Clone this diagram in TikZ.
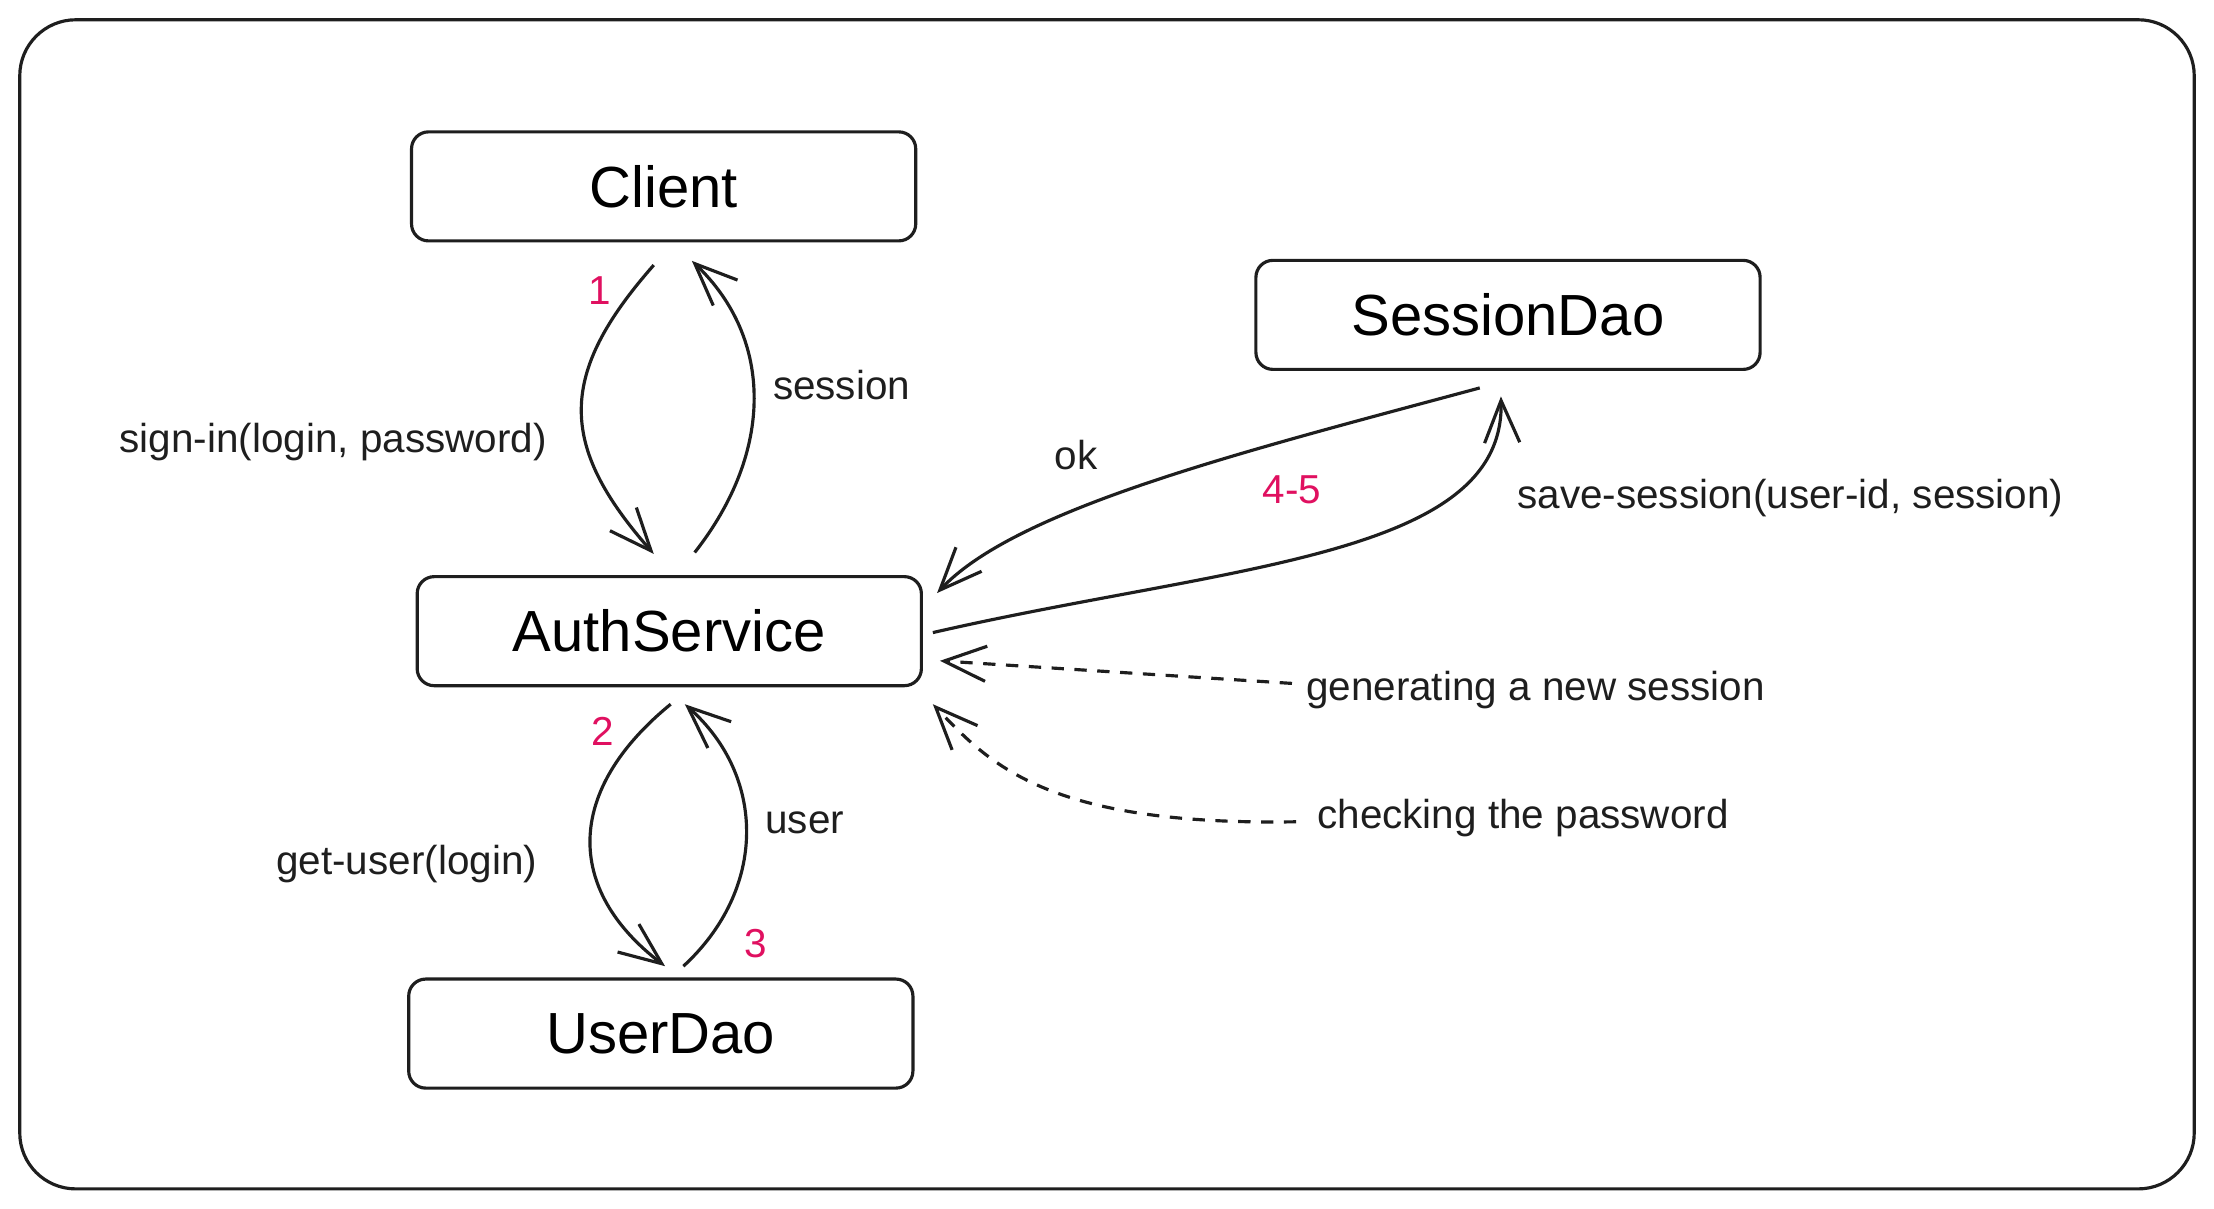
\documentclass[tikz,border=0pt]{standalone}
\usepackage{fontspec}
\setmainfont{Liberation Sans}
\usetikzlibrary{arrows.meta,calc}

\definecolor{stepred}{RGB}{224,16,96}
\definecolor{ink}{RGB}{30,30,30}

\tikzset{
  box/.style={draw=ink, line width=0.9pt, rounded corners=0.17cm,
    minimum width=5.04cm, minimum height=1.09cm, font=\fontsize{16.5}{19}\selectfont},
  msg/.style={font=\fontsize{11.5}{14}\selectfont, text=ink, inner sep=1pt},
  stepno/.style={font=\fontsize{11.5}{14}\selectfont, text=stepred, inner sep=1pt},
  flow/.style={draw=ink, line width=0.9pt, -{Straight Barb[length=12pt, width=10pt]}},
  note/.style={flow, dash pattern=on 3.5pt off 3pt}
}

\begin{document}
\begin{tikzpicture}[x=0.01412cm, y=-0.01412cm]

  \useasboundingbox (0,0) rectangle (1568,856);
  % outer frame
  \draw[ink, line width=0.9pt, rounded corners=0.56cm] (14,14) rectangle (1554,842);

  %% Components
  \node[box] (client)  at (470,132)  {Client};
  \node[box] (session) at (1068,223) {SessionDao};
  \node[box] (auth)    at (474,447)  {AuthService};
  \node[box] (user)    at (468,732)  {UserDao};

  %% Client <-> AuthService
  \draw[flow] ($(client.south)+(-7,16)$) .. controls (395,265) and (395,315) .. ($(auth.north)+(-11,-15)$);
  \draw[flow] ($(auth.north)+(18,-16)$) .. controls (548,320) and (548,240) .. ($(client.south)+(20,13)$);
  \node[stepno] (n1) at (425,206) {1};
  \node[msg] (signin) at (236,313) {sign-in(login, password)};
  \node[msg] (sess) at (596,273) {session};

  %% AuthService <-> UserDao
  \draw[flow] ($(auth.south)+(1,12)$) .. controls (400,560) and (400,630) .. ($(user.north)+(3,-8)$);
  \draw[flow] ($(user.north)+(16,-8)$) .. controls (543,630) and (543,550) .. ($(auth.south)+(11,12)$);
  \node[stepno] (n2) at (427,518) {2};
  \node[stepno] (n3) at (535,668) {3};
  \node[msg] (getuser) at (288,612) {get-user(login)};
  \node[msg] (usr) at (570,583) {user};

  %% AuthService <-> SessionDao
  \draw[flow] ($(session.south)+(-20,12)$) .. controls (880,320) and (720,360) .. ($(auth.east)+(10,-27)$);
  \draw[flow] ($(auth.east)+(7,1)$) .. controls (870,400) and (1066,395) .. ($(session.south)+(-5,18)$);
  \node[msg] (ok) at (762,322) {ok};
  \node[stepno] (n45) at (915,347) {4-5};
  \node[msg] (save) at (1268,353) {save-session(user-id, session)};

  %% notes
  \node[msg, anchor=west] (gen) at (922,489) {generating a new session};
  \node[msg, anchor=west] (chk) at (930,579) {checking the password};
  \draw[note] ($(gen.west)+(-7,-5)$) -- ($(auth.east)+(12,21)$);
  \draw[note] ($(chk.west)+(-12,3)$) .. controls (740,585) and (700,540) .. ($(auth.south east)+(7,12)$);

\end{tikzpicture}
\end{document}
